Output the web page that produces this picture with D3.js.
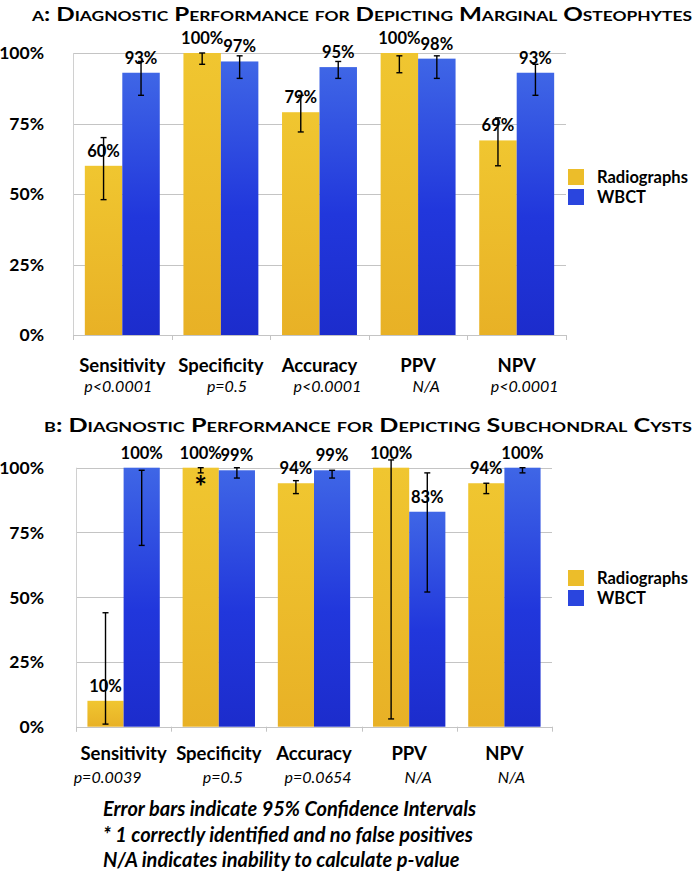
<!DOCTYPE html>
<html lang="en">
<head>
<meta charset="UTF-8">
<title>Diagnostic Performance</title>
<script src="https://d3js.org/d3.v7.min.js"></script>
<style>
    body { margin: 0; background: #fff; }
    text { font-family: Lato, "Open Sans", sans-serif; fill: #000; }
    .title { font-weight: bold; font-variant: small-caps; }
    .grid line { stroke: #c4c4c4; stroke-width: 1; shape-rendering: crispEdges; }
    .err { stroke: #000; stroke-width: 1.4; fill: none; }
</style>
</head>
<body>
<script>
// Data
const categories = ["Sensitivity", "Specificity", "Accuracy", "PPV", "NPV"];
const series = ["Radiographs", "WBCT"];
const yTicks = [0, 25, 50, 75, 100];

const pValuesA = ["p<0.0001", "p=0.5", "p<0.0001", "N/A", "p<0.0001"];
const radA = [60, 100, 79, 100, 69];
const wbctA = [93, 97, 95, 98, 93];
const radA_lo = [48, 96, 72, 93, 60];
const radA_hi = [70, 100, 85, 99, 77];
const wbctA_lo = [85, 91, 91, 91, 85];
const wbctA_hi = [97, 99, 97, 99, 96];

const pValuesB = ["p=0.0039", "p=0.5", "p=0.0654", "N/A", "N/A"];
const radB = [10, 100, 94, 100, 94];
const wbctB = [100, 99, 99, 83, 100];
const radB_lo = [1, 98, 90, 3, 90];
const radB_hi = [44, 100, 95, 103, 94];
const wbctB_lo = [70, 96, 96, 52, 98];
const wbctB_hi = [99, 100, 99, 98, 100];

const footnotes = [
    "Error bars indicate 95% Confidence Intervals",
    "* 1 correctly identified and no false positives",
    "N/A indicates inability to calculate p-value"
];

const W = 698, H = 874;
const svg = d3.select("body").append("svg")
    .attr("width", W)
    .attr("height", H);

svg.append("rect").attr("width", W).attr("height", H).attr("fill", "#fff");

// gradients
const defs = svg.append("defs");
const gY = defs.append("linearGradient").attr("id", "gradY").attr("x1", 0).attr("y1", 0).attr("x2", 0).attr("y2", 1);
gY.append("stop").attr("offset", "0%").attr("stop-color", "#f0c630");
gY.append("stop").attr("offset", "100%").attr("stop-color", "#e8b126");
const gB = defs.append("linearGradient").attr("id", "gradB").attr("x1", 0).attr("y1", 0).attr("x2", 0).attr("y2", 1);
gB.append("stop").attr("offset", "0%").attr("stop-color", "#3f66e6");
gB.append("stop").attr("offset", "55%").attr("stop-color", "#2137dc");
gB.append("stop").attr("offset", "100%").attr("stop-color", "#1c2ccc");
const fills = ["url(#gradY)", "url(#gradB)"];
const legendFills = ["#ecbd2a", "#2a45de"];

function drawPanel(p) {
    const g = svg.append("g");

    // title
    g.append("text").attr("class", "title")
        .attr("x", p.titleX).attr("y", p.titleY)
        .attr("font-size", 19.5)
        .attr("textLength", p.titleW).attr("lengthAdjust", "spacingAndGlyphs")
        .text(p.title);

    const x0 = d3.scaleBand().domain(categories)
        .range([p.left, p.right]).paddingInner(0.24).paddingOuter(0.12);
    const x1 = d3.scaleBand().domain(series).range([0, x0.bandwidth()]);
    const y = d3.scaleLinear().domain([0, 100]).range([p.bottom, p.top]);
    const step = x0.step();

    // grid
    g.append("g").attr("class", "grid")
        .selectAll("line").data(yTicks).join("line")
        .attr("x1", p.left).attr("x2", p.right)
        .attr("y1", d => Math.round(y(d)) + 0.5).attr("y2", d => Math.round(y(d)) + 0.5);
    g.append("line").attr("x1", p.left + 0.5).attr("x2", p.left + 0.5)
        .attr("y1", y(100)).attr("y2", y(0) + 5)
        .attr("stroke", "#d0d0d0");
    // category boundary ticks
    g.append("g").selectAll("line").data(d3.range(categories.length + 1)).join("line")
        .attr("x1", i => Math.round(p.left + i * step) + 0.5)
        .attr("x2", i => Math.round(p.left + i * step) + 0.5)
        .attr("y1", y(0)).attr("y2", y(0) + 5)
        .attr("stroke", "#c4c4c4");

    // y labels
    g.append("g").selectAll("text").data(yTicks).join("text")
        .attr("x", 44).attr("y", d => y(d))
        .attr("dy", "0.36em").attr("text-anchor", "end")
        .attr("font-size", 17.5).attr("font-weight", "bold")
        .text(d => d + "%");

    const rows = categories.map((c, i) => ({
        cat: c,
        vals: [
            {s: series[0], v: p.rad[i], lo: p.radLo[i], hi: p.radHi[i], k: 0},
            {s: series[1], v: p.wbct[i], lo: p.wbctLo[i], hi: p.wbctHi[i], k: 1}
        ]
    }));

    const grp = g.append("g").selectAll("g").data(rows).join("g")
        .attr("transform", d => `translate(${x0(d.cat)},0)`);

    grp.selectAll("rect").data(d => d.vals).join("rect")
        .attr("x", d => x1(d.s))
        .attr("width", x1.bandwidth())
        .attr("y", d => y(d.v))
        .attr("height", d => y(0) - y(d.v))
        .attr("fill", d => fills[d.k]);

    grp.selectAll("text.val").data(d => d.vals).join("text")
        .attr("class", "val")
        .attr("x", d => x1(d.s) + x1.bandwidth() / 2)
        .attr("y", d => y(d.v) - 9)
        .attr("text-anchor", "middle")
        .attr("font-size", 16.5).attr("font-weight", "bold")
        .text(d => d.v + "%");

    // error bars
    const eb = grp.selectAll("g.eb").data(d => d.vals).join("g").attr("class", "eb")
        .attr("transform", d => `translate(${x1(d.s) + x1.bandwidth() / 2},0)`);
    eb.append("line").attr("class", "err")
        .attr("y1", d => y(d.hi)).attr("y2", d => y(d.lo));
    eb.append("line").attr("class", "err")
        .attr("x1", -3).attr("x2", 3)
        .attr("y1", d => y(d.hi)).attr("y2", d => y(d.hi));
    eb.append("line").attr("class", "err")
        .attr("x1", -3).attr("x2", 3)
        .attr("y1", d => y(d.lo)).attr("y2", d => y(d.lo));

    // category labels
    g.append("g").selectAll("text").data(categories).join("text")
        .attr("x", d => x0(d) + x0.bandwidth() / 2)
        .attr("y", p.catY).attr("text-anchor", "middle")
        .attr("font-size", 18.5).attr("font-weight", "bold")
        .text(d => d);

    g.append("g").selectAll("text").data(p.pvals).join("text")
        .attr("x", (d, i) => x0(categories[i]) + x0.bandwidth() / 2 + p.pShift[i])
        .attr("y", p.pY).attr("text-anchor", "middle")
        .attr("font-size", 16).attr("font-style", "italic")
        .text(d => d);

    // legend
    const lg = g.append("g").attr("transform", `translate(568,${p.legendY})`);
    series.forEach((s, i) => {
        lg.append("rect").attr("x", 0).attr("y", i * 20).attr("width", 16).attr("height", 16)
            .attr("fill", legendFills[i]);
        lg.append("text").attr("x", 29).attr("y", i * 20 + 8).attr("dy", "0.36em")
            .attr("font-size", 16.5).attr("font-weight", "bold").text(s);
    });

    return {x0, x1, y};
}

drawPanel({
    title: "a: Diagnostic Performance for Depicting Marginal Osteophytes",
    titleX: 32, titleY: 21, titleW: 660,
    left: 73, right: 566, top: 53, bottom: 335,
    rad: radA, wbct: wbctA, radLo: radA_lo, radHi: radA_hi, wbctLo: wbctA_lo, wbctHi: wbctA_hi,
    pvals: pValuesA, pShift: [-4, 6, 8, 8, 8],
    catY: 372, pY: 392, legendY: 169
});

const sB = drawPanel({
    title: "b: Diagnostic Performance for Depicting Subchondral Cysts",
    titleX: 44, titleY: 432, titleW: 648,
    left: 76, right: 552, top: 467.7, bottom: 726.7,
    rad: radB, wbct: wbctB, radLo: radB_lo, radHi: radB_hi, wbctLo: wbctB_lo, wbctHi: wbctB_hi,
    pvals: pValuesB, pShift: [-16, 4, 4, 9, 7],
    catY: 760, pY: 783, legendY: 570
});

// asterisk on Specificity radiographs (panel B)
svg.append("text")
    .attr("x", sB.x0("Specificity") + sB.x1("Radiographs") + sB.x1.bandwidth() / 2)
    .attr("y", sB.y(radB_lo[1]) + 25)
    .attr("text-anchor", "middle")
    .attr("font-size", 30).attr("font-weight", "bold")
    .text("*");

// footnotes
svg.append("g").selectAll("text").data(footnotes).join("text")
    .attr("x", 103).attr("y", (d, i) => 816 + i * 25.5)
    .attr("font-size", 20).attr("font-weight", "bold").attr("font-style", "italic")
    .text(d => d);
</script>
</body>
</html>
